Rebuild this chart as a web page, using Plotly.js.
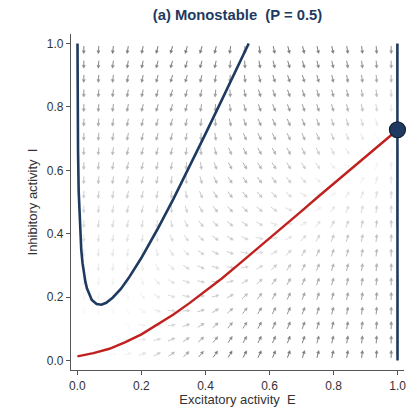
<!DOCTYPE html>
<html><head><meta charset="utf-8">
<script src="https://cdn.plot.ly/plotly-3.0.1.min.js"></script>
<style>html,body{margin:0;padding:0;background:#fff}</style>
</head><body>
<div id="chart" style="width:408px;height:407px"></div>
<script>
// ---- quiver grid (centres) ----
const gridE = [0.020,0.066,0.111,0.157,0.203,0.249,0.294,0.340,0.386,0.431,0.477,0.523,0.569,0.614,0.660,0.706,0.751,0.797,0.843,0.889,0.934,0.980];
const gridI = [0.020,0.066,0.111,0.157,0.203,0.249,0.294,0.340,0.386,0.431,0.477,0.523,0.569,0.614,0.660,0.706,0.751,0.797,0.843,0.889,0.934,0.980];
// dE/dt per row (row 0 = bottom)
const fieldU = [
[0.054,0.073,0.135,0.240,0.369,0.480,0.550,0.576,0.570,0.547,0.512,0.471,0.428,0.385,0.340,0.294,0.249,0.203,0.157,0.111,0.066,0.020],
[0.040,0.047,0.093,0.184,0.307,0.430,0.516,0.556,0.559,0.541,0.509,0.470,0.428,0.384,0.339,0.294,0.249,0.203,0.157,0.111,0.066,0.020],
[0.027,0.024,0.056,0.130,0.247,0.373,0.475,0.530,0.545,0.533,0.505,0.468,0.427,0.384,0.340,0.294,0.249,0.203,0.157,0.111,0.066,0.020],
[0.017,0.006,0.025,0.084,0.189,0.316,0.429,0.500,0.528,0.524,0.500,0.466,0.425,0.383,0.339,0.294,0.249,0.203,0.157,0.111,0.066,0.020],
[0.009,-0.009,-0.002,0.041,0.131,0.254,0.376,0.464,0.506,0.512,0.494,0.463,0.424,0.382,0.338,0.294,0.249,0.203,0.157,0.111,0.066,0.020],
[0.003,-0.020,-0.023,0.005,0.080,0.194,0.321,0.423,0.480,0.498,0.487,0.459,0.422,0.381,0.338,0.294,0.249,0.203,0.157,0.111,0.066,0.020],
[-0.002,-0.030,-0.041,-0.026,0.032,0.133,0.261,0.375,0.449,0.480,0.477,0.454,0.419,0.380,0.337,0.293,0.249,0.203,0.157,0.111,0.066,0.020],
[-0.006,-0.038,-0.055,-0.051,-0.008,0.078,0.201,0.324,0.413,0.458,0.465,0.447,0.416,0.379,0.336,0.292,0.248,0.203,0.157,0.111,0.066,0.020],
[-0.009,-0.044,-0.067,-0.072,-0.045,0.026,0.139,0.266,0.370,0.431,0.450,0.439,0.412,0.376,0.335,0.292,0.248,0.203,0.157,0.111,0.066,0.020],
[-0.011,-0.048,-0.076,-0.089,-0.074,-0.019,0.081,0.207,0.323,0.400,0.432,0.430,0.407,0.374,0.334,0.291,0.247,0.202,0.157,0.111,0.066,0.020],
[-0.013,-0.052,-0.084,-0.103,-0.100,-0.061,0.025,0.145,0.269,0.361,0.409,0.417,0.400,0.370,0.332,0.290,0.247,0.202,0.157,0.111,0.066,0.020],
[-0.015,-0.055,-0.089,-0.114,-0.120,-0.095,-0.025,0.086,0.213,0.319,0.382,0.402,0.392,0.366,0.330,0.289,0.247,0.202,0.156,0.110,0.066,0.020],
[-0.016,-0.057,-0.094,-0.123,-0.136,-0.123,-0.070,0.028,0.154,0.272,0.351,0.383,0.382,0.361,0.328,0.288,0.246,0.201,0.156,0.110,0.066,0.020],
[-0.017,-0.059,-0.098,-0.130,-0.150,-0.148,-0.110,-0.028,0.092,0.217,0.312,0.360,0.369,0.354,0.324,0.286,0.245,0.201,0.156,0.110,0.066,0.020],
[-0.017,-0.061,-0.100,-0.136,-0.161,-0.168,-0.143,-0.077,0.032,0.160,0.269,0.333,0.354,0.346,0.320,0.284,0.244,0.200,0.156,0.110,0.066,0.020],
[-0.018,-0.062,-0.103,-0.141,-0.170,-0.185,-0.173,-0.122,-0.027,0.099,0.219,0.299,0.334,0.335,0.314,0.281,0.242,0.200,0.155,0.110,0.066,0.020],
[-0.018,-0.063,-0.105,-0.144,-0.177,-0.198,-0.196,-0.161,-0.080,0.039,0.166,0.261,0.311,0.322,0.307,0.278,0.241,0.199,0.155,0.110,0.066,0.020],
[-0.019,-0.063,-0.106,-0.147,-0.183,-0.209,-0.216,-0.194,-0.131,-0.022,0.107,0.216,0.282,0.306,0.299,0.273,0.238,0.198,0.154,0.110,0.066,0.020],
[-0.019,-0.064,-0.107,-0.149,-0.187,-0.217,-0.232,-0.222,-0.174,-0.079,0.048,0.167,0.249,0.286,0.288,0.267,0.236,0.196,0.154,0.109,0.066,0.020],
[-0.019,-0.064,-0.108,-0.151,-0.190,-0.224,-0.245,-0.246,-0.212,-0.134,-0.014,0.111,0.208,0.261,0.274,0.260,0.232,0.195,0.153,0.109,0.065,0.019],
[-0.019,-0.065,-0.109,-0.152,-0.193,-0.229,-0.255,-0.264,-0.244,-0.181,-0.073,0.054,0.164,0.233,0.258,0.251,0.227,0.192,0.152,0.108,0.065,0.019],
[-0.020,-0.065,-0.109,-0.153,-0.195,-0.233,-0.263,-0.279,-0.271,-0.223,-0.129,-0.006,0.115,0.199,0.238,0.240,0.222,0.189,0.150,0.108,0.064,0.019]
];
// dI/dt per row (row 0 = bottom)
const fieldV = [
[-0.004,0.009,0.033,0.074,0.142,0.246,0.384,0.538,0.683,0.795,0.872,0.919,0.946,0.962,0.970,0.975,0.977,0.978,0.979,0.980,0.980,0.980],
[-0.057,-0.049,-0.034,-0.009,0.036,0.109,0.218,0.360,0.515,0.655,0.763,0.834,0.878,0.903,0.917,0.925,0.929,0.931,0.933,0.933,0.934,0.934],
[-0.106,-0.101,-0.092,-0.077,-0.049,0.000,0.077,0.192,0.337,0.491,0.628,0.730,0.797,0.838,0.861,0.874,0.881,0.885,0.887,0.888,0.888,0.889],
[-0.154,-0.151,-0.146,-0.137,-0.120,-0.089,-0.037,0.046,0.165,0.313,0.467,0.599,0.696,0.758,0.796,0.817,0.829,0.835,0.839,0.841,0.842,0.842],
[-0.201,-0.200,-0.197,-0.191,-0.181,-0.162,-0.129,-0.073,0.015,0.139,0.290,0.441,0.569,0.661,0.719,0.754,0.773,0.784,0.790,0.793,0.795,0.796],
[-0.248,-0.247,-0.245,-0.242,-0.236,-0.225,-0.204,-0.169,-0.109,-0.016,0.113,0.266,0.416,0.539,0.625,0.679,0.711,0.729,0.739,0.745,0.748,0.749],
[-0.293,-0.293,-0.292,-0.290,-0.286,-0.280,-0.267,-0.245,-0.207,-0.143,-0.044,0.089,0.243,0.391,0.508,0.589,0.640,0.670,0.686,0.695,0.700,0.703],
[-0.340,-0.339,-0.339,-0.338,-0.335,-0.332,-0.324,-0.311,-0.287,-0.246,-0.177,-0.073,0.065,0.220,0.364,0.476,0.552,0.599,0.627,0.642,0.650,0.655],
[-0.386,-0.386,-0.385,-0.385,-0.383,-0.381,-0.377,-0.369,-0.354,-0.328,-0.284,-0.210,-0.101,0.041,0.196,0.336,0.443,0.515,0.558,0.583,0.597,0.605],
[-0.431,-0.431,-0.431,-0.430,-0.429,-0.428,-0.426,-0.421,-0.412,-0.396,-0.368,-0.320,-0.242,-0.127,0.018,0.172,0.309,0.411,0.478,0.518,0.541,0.554],
[-0.477,-0.477,-0.477,-0.477,-0.476,-0.475,-0.474,-0.471,-0.466,-0.456,-0.439,-0.409,-0.357,-0.274,-0.154,-0.006,0.148,0.280,0.376,0.439,0.476,0.497],
[-0.523,-0.523,-0.523,-0.523,-0.523,-0.522,-0.521,-0.520,-0.517,-0.511,-0.501,-0.482,-0.449,-0.393,-0.305,-0.180,-0.029,0.123,0.250,0.341,0.399,0.434],
[-0.569,-0.569,-0.569,-0.569,-0.569,-0.569,-0.568,-0.567,-0.565,-0.562,-0.556,-0.545,-0.524,-0.488,-0.428,-0.335,-0.205,-0.053,0.097,0.219,0.305,0.360],
[-0.614,-0.614,-0.614,-0.614,-0.614,-0.614,-0.614,-0.613,-0.612,-0.610,-0.606,-0.600,-0.587,-0.565,-0.527,-0.462,-0.363,-0.229,-0.075,0.072,0.189,0.270],
[-0.660,-0.660,-0.660,-0.660,-0.660,-0.660,-0.660,-0.660,-0.659,-0.657,-0.655,-0.651,-0.644,-0.631,-0.607,-0.565,-0.496,-0.392,-0.254,-0.099,0.045,0.157],
[-0.706,-0.706,-0.706,-0.706,-0.706,-0.706,-0.706,-0.706,-0.706,-0.706,-0.703,-0.701,-0.697,-0.689,-0.674,-0.648,-0.603,-0.529,-0.420,-0.278,-0.123,0.017],
[-0.751,-0.751,-0.751,-0.751,-0.751,-0.751,-0.751,-0.751,-0.751,-0.751,-0.751,-0.748,-0.745,-0.741,-0.732,-0.716,-0.688,-0.639,-0.561,-0.446,-0.301,-0.146],
[-0.797,-0.797,-0.797,-0.797,-0.797,-0.797,-0.797,-0.797,-0.797,-0.797,-0.797,-0.797,-0.794,-0.791,-0.786,-0.776,-0.759,-0.728,-0.676,-0.593,-0.473,-0.324],
[-0.843,-0.843,-0.843,-0.843,-0.843,-0.843,-0.843,-0.843,-0.843,-0.843,-0.843,-0.843,-0.843,-0.839,-0.836,-0.831,-0.820,-0.802,-0.769,-0.712,-0.624,-0.499],
[-0.889,-0.889,-0.889,-0.889,-0.889,-0.889,-0.889,-0.889,-0.889,-0.889,-0.889,-0.889,-0.889,-0.889,-0.885,-0.882,-0.876,-0.864,-0.844,-0.808,-0.748,-0.654],
[-0.934,-0.934,-0.934,-0.934,-0.934,-0.934,-0.934,-0.934,-0.934,-0.934,-0.934,-0.934,-0.934,-0.934,-0.934,-0.930,-0.926,-0.919,-0.907,-0.885,-0.846,-0.781],
[-0.980,-0.980,-0.980,-0.980,-0.980,-0.980,-0.980,-0.980,-0.980,-0.980,-0.980,-0.980,-0.980,-0.980,-0.980,-0.978,-0.975,-0.971,-0.964,-0.951,-0.927,-0.885]
];
// ---- nullclines ----
const blueE = [0.0003,0.0005,0.001,0.002,0.004,0.007,0.012,0.016,0.02,0.025,0.03,0.0375,0.045,0.06,0.075,0.09,0.11,0.135,0.16,0.2,0.25,0.3,0.35,0.4,0.45,0.5,0.535];
const blueI = [1.0,0.914,0.785,0.659,0.534,0.438,0.350,0.307,0.276,0.248,0.227,0.206,0.191,0.178,0.176,0.182,0.198,0.225,0.260,0.324,0.414,0.510,0.611,0.715,0.820,0.926,1.0];
const blueRightE = [0.9998,0.9996,0.9993];
const blueRightI = [0.0,0.5,1.0];
const redE = [0,0.05,0.1,0.15,0.2,0.25,0.3,0.35,0.4,0.45,0.5,0.55,0.6,0.65,0.7,0.75,0.8,0.85,0.9,0.95,1.0];
const redI = [0.013,0.023,0.037,0.058,0.0825,0.113,0.145,0.181,0.219,0.258,0.300,0.342,0.384,0.428,0.471,0.515,0.558,0.601,0.644,0.687,0.728];
const fixedE = [0.9995];
const fixedI = [0.728];
const tickVals = [0,0.2,0.4,0.6,0.8,1.0];
const tickText = ['0.0','0.2','0.4','0.6','0.8','1.0'];

// ---- layout geometry ----
const W = 408, H = 407;
const M = {l:71, r:4, t:34, b:37, pad:0};
const xr = [-0.02, 1.02], yr = [-0.03, 1.03];
const pxX = (W - M.l - M.r) / (xr[1] - xr[0]);
const pxY = (H - M.t - M.b) / (yr[1] - yr[0]);

// ---- build quiver traces (bucketed by grey level) ----
const L = 7.6, HL = 2.9, HW = 1.5;
let smax = 0;
fieldU.forEach((row,i)=>row.forEach((u,j)=>{ smax = Math.max(smax, Math.hypot(u, fieldV[i][j])); }));
const buckets = {};
for (let i = 0; i < gridI.length; i++) {
  for (let j = 0; j < gridE.length; j++) {
    const u = fieldU[i][j], v = fieldV[i][j];
    const s = Math.hypot(u, v);
    const t = Math.min(1, s / smax);
    const g = Math.round((255 - 140 * Math.pow(t, 1.5)) / 4) * 4;
    if (g >= 252) continue;
    const dx = u * pxX, dy = v * pxY, n = Math.hypot(dx, dy) || 1;
    const ux = dx / n, uy = dy / n;
    const cx = gridE[j], cy = gridI[i];
    const P = (a, b) => [cx + a / pxX, cy + b / pxY];
    const tail = P(-ux * L / 2, -uy * L / 2);
    const tip = P(ux * L / 2, uy * L / 2);
    const bx = ux * (L / 2 - HL), by = uy * (L / 2 - HL);
    const base = P(bx, by);
    const w1 = P(bx - uy * HW, by + ux * HW);
    const w2 = P(bx + uy * HW, by - ux * HW);
    if (!buckets[g]) buckets[g] = {sx:[], sy:[], hx:[], hy:[]};
    const B = buckets[g];
    B.sx.push(tail[0], base[0], null); B.sy.push(tail[1], base[1], null);
    B.hx.push(tip[0], w1[0], w2[0], tip[0], null); B.hy.push(tip[1], w1[1], w2[1], tip[1], null);
  }
}
const traces = [];
Object.keys(buckets).map(Number).sort((a,b)=>b-a).forEach(g => {
  const col = `rgb(${g},${g},${g})`;
  const B = buckets[g];
  traces.push({x:B.sx, y:B.sy, mode:'lines', line:{color:col, width:1}, hoverinfo:'skip', showlegend:false, connectgaps:false});
  traces.push({x:B.hx, y:B.hy, mode:'lines', fill:'toself', fillcolor:col, line:{color:col, width:0.5}, hoverinfo:'skip', showlegend:false});
});

const blue = '#1f3a60', red = '#c0201e';
traces.push({x:blueE, y:blueI, mode:'lines', line:{color:blue, width:2.6}, hoverinfo:'skip', showlegend:false});
traces.push({x:blueRightE, y:blueRightI, mode:'lines', line:{color:blue, width:2.6}, hoverinfo:'skip', showlegend:false});
traces.push({x:redE, y:redI, mode:'lines', line:{color:red, width:2.4}, hoverinfo:'skip', showlegend:false});
traces.push({x:fixedE, y:fixedI, mode:'markers', marker:{size:16, color:blue, line:{color:'#0f1e30', width:1.2}}, hoverinfo:'skip', showlegend:false, cliponaxis:false});

const font = 'Liberation Sans, Arial, sans-serif';
const axisCommon = {
  showgrid:false, zeroline:false, showline:true, linecolor:'#555', linewidth:1.1,
  ticks:'outside', ticklen:4, tickwidth:1, tickcolor:'#555',
  tickvals:tickVals, ticktext:tickText,
  tickfont:{family:font, size:12, color:'#333'}, fixedrange:true
};
const layout = {
  width:W, height:H, margin:M, paper_bgcolor:'#fff', plot_bgcolor:'#fff',
  font:{family:font, color:'#333'},
  title:{text:'<b>(a) Monostable\u00a0 (P = 0.5)</b>', font:{family:font, size:14.8, color:'#1f3a5f'},
         xref:'paper', x:0.5, xanchor:'center', yref:'container', y:1 - 15/H, yanchor:'middle'},
  xaxis:Object.assign({}, axisCommon, {range:xr, title:{text:'Excitatory activity\u00a0 E', font:{family:font, size:13, color:'#333'}, standoff:5}}),
  yaxis:Object.assign({}, axisCommon, {range:yr, title:{text:'Inhibitory activity\u00a0 I', font:{family:font, size:13, color:'#333'}, standoff:6}}),
  showlegend:false
};
Plotly.newPlot('chart', traces, layout, {displayModeBar:false, staticPlot:true});
</script>
</body></html>
